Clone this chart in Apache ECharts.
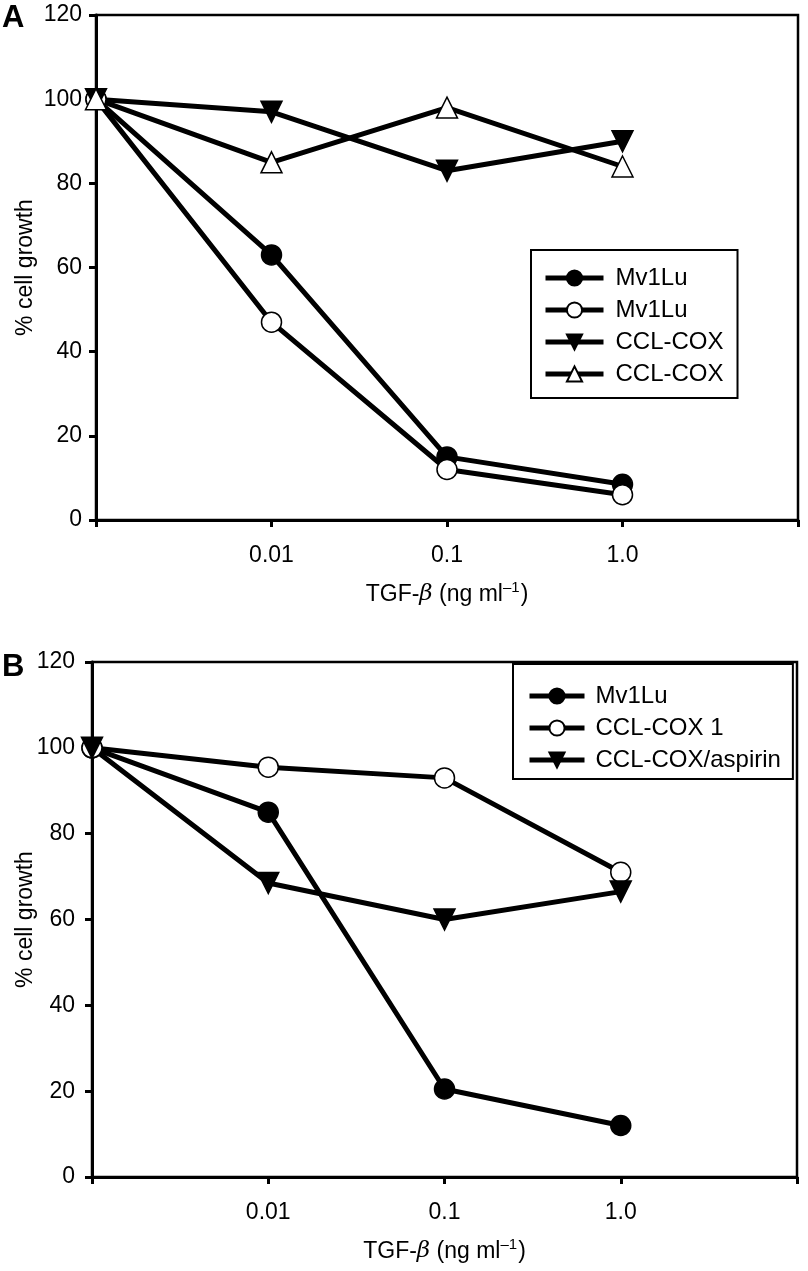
<!DOCTYPE html>
<html>
<head>
<meta charset="utf-8">
<script src="https://cdn.jsdelivr.net/npm/echarts@6/dist/echarts.min.js"></script>
<style>
html,body{margin:0;padding:0;background:#fff;}
#chart{width:808px;height:1271px;}
</style>
</head>
<body>
<div id="chart"></div>
<script>
// ---- data ----
var xCategories = ['0', '0.01', '0.1', '1.0', ' '];
var yTicks = [0, 20, 40, 60, 80, 100, 120];

// Panel A
var aMv1LuFilled = [100, 63, 15, 8.5];
var aMv1LuOpen = [100, 47, 12, 6];
var aCoxFilled = [100, 97, 83, 90];
var aCoxOpen = [100, 85, 98, 84];
var aLabels = ['Mv1Lu', 'Mv1Lu', 'CCL-COX', 'CCL-COX'];

// Panel B
var bMv1Lu = [100, 85, 20.5, 12];
var bCox1 = [100, 95.5, 93, 71];
var bCoxAspirin = [100, 68.5, 60, 66.5];
var bLabels = ['Mv1Lu', 'CCL-COX 1', 'CCL-COX/aspirin'];

var FONT = '"Liberation Sans", Arial, Helvetica, sans-serif';
var FS = 23;

var labelMap = {
  'A1': aLabels[0], 'A2': aLabels[1], 'A3': aLabels[2], 'A4': aLabels[3],
  'B1': bLabels[0], 'B2': bLabels[1], 'B3': bLabels[2]
};

function xAxisCfg(gi) {
  return {
    gridIndex: gi, type: 'category', data: xCategories, boundaryGap: false,
    axisLine: { lineStyle: { color: '#000', width: 3 } },
    axisTick: { show: true, inside: false, length: 7, interval: 0, lineStyle: { color: '#000', width: 3 } },
    axisLabel: { interval: 0, margin: 24, color: '#000', fontSize: FS, fontFamily: FONT,
      formatter: function (v, i) { return i === 0 ? '' : v; } },
    name: '{a|TGF-}{b|\u03b2}{a| (ng ml}{s|\u20131}{a|)}',
    nameLocation: 'middle', nameGap: 58,
    nameTextStyle: { color: '#000', fontFamily: FONT, fontSize: FS,
      rich: {
        a: { fontSize: FS, fontFamily: FONT, color: '#000', verticalAlign: 'bottom', lineHeight: 28 },
        b: { fontSize: FS, fontFamily: '"DejaVu Serif", serif', fontStyle: 'italic', color: '#000', verticalAlign: 'bottom', lineHeight: 28 },
        s: { fontSize: 15, fontFamily: FONT, color: '#000', verticalAlign: 'bottom', lineHeight: 28, padding: [0, 1, 11, 0] }
      } },
    splitLine: { show: false }
  };
}
function yAxisCfg(gi, margin, nameGap) {
  return {
    gridIndex: gi, type: 'value', min: yTicks[0], max: yTicks[yTicks.length - 1], interval: 20,
    axisLine: { show: true, lineStyle: { color: '#000', width: 3 } },
    axisTick: { show: true, length: 7, lineStyle: { color: '#000', width: 3 } },
    axisLabel: { margin: margin, color: '#000', fontSize: FS, fontFamily: FONT },
    splitLine: { show: false },
    name: '% cell growth', nameLocation: 'middle', nameGap: nameGap, nameMoveOverlap: false,
    nameTextStyle: { color: '#000', fontSize: FS, fontFamily: FONT }
  };
}
function series(name, gi, data, symbol, filled) {
  return {
    name: name, type: 'line', xAxisIndex: gi, yAxisIndex: gi,
    data: data, symbol: symbol === 'down' ? 'triangle' : symbol,
    symbolRotate: symbol === 'down' ? 180 : 0,
    symbolSize: symbol === 'circle' ? 20 : 21,
    lineStyle: { color: '#000', width: 5 },
    itemStyle: { color: filled ? '#000' : '#fff', borderColor: '#000', borderWidth: 1.5 },
    showAllSymbol: true, animation: false
  };
}
function legendCfg(names, left, top, pad, itemWidth, textGap) {
  return {
    data: names, orient: 'vertical', left: left, top: top,
    padding: pad, itemGap: 8, itemWidth: itemWidth, itemHeight: 19,
    borderColor: '#000', borderWidth: 2, backgroundColor: '#fff',
    selectedMode: false,
    lineStyle: { width: 5, color: '#000' },
    formatter: function (n) { return labelMap[n]; },
    textStyle: { color: '#000', fontSize: 24, fontFamily: FONT, lineHeight: 23, padding: [0, 0, 0, textGap] }
  };
}

var chart = echarts.init(document.getElementById('chart'), null, { renderer: 'canvas' });
chart.setOption({
  backgroundColor: '#fff',
  animation: false,
  grid: [
    { left: 96, right: 10, top: 15, bottom: 751, show: true, borderColor: '#000', borderWidth: 2.5, containLabel: false, outerBoundsMode: 'none' },
    { left: 92, right: 11, top: 662, bottom: 94, show: true, borderColor: '#000', borderWidth: 2.5, containLabel: false, outerBoundsMode: 'none' }
  ],
  xAxis: [xAxisCfg(0), xAxisCfg(1)],
  yAxis: [yAxisCfg(0, 14, 59), yAxisCfg(1, 17, 55)],
  legend: [
    legendCfg(['A1', 'A2', 'A3', 'A4'], 531, 250, [16, 14, 12, 12], 58, 7),
    legendCfg(['B1', 'B2', 'B3'], 513, 664, [20, 12, 7, 14], 55, 6)
  ],
  graphic: [
    { type: 'text', left: 2, top: 3, style: { text: 'A', fontSize: 31, fontWeight: 'bold', fontFamily: FONT, fill: '#000' } },
    { type: 'text', left: 2, top: 652, style: { text: 'B', fontSize: 31, fontWeight: 'bold', fontFamily: FONT, fill: '#000' } }
  ],
  series: [
    series('A1', 0, aMv1LuFilled, 'circle', true),
    series('A2', 0, aMv1LuOpen, 'circle', false),
    series('A3', 0, aCoxFilled, 'down', true),
    series('A4', 0, aCoxOpen, 'triangle', false),
    series('B1', 1, bMv1Lu, 'circle', true),
    series('B2', 1, bCox1, 'circle', false),
    series('B3', 1, bCoxAspirin, 'down', true)
  ]
});
</script>
</body>
</html>
